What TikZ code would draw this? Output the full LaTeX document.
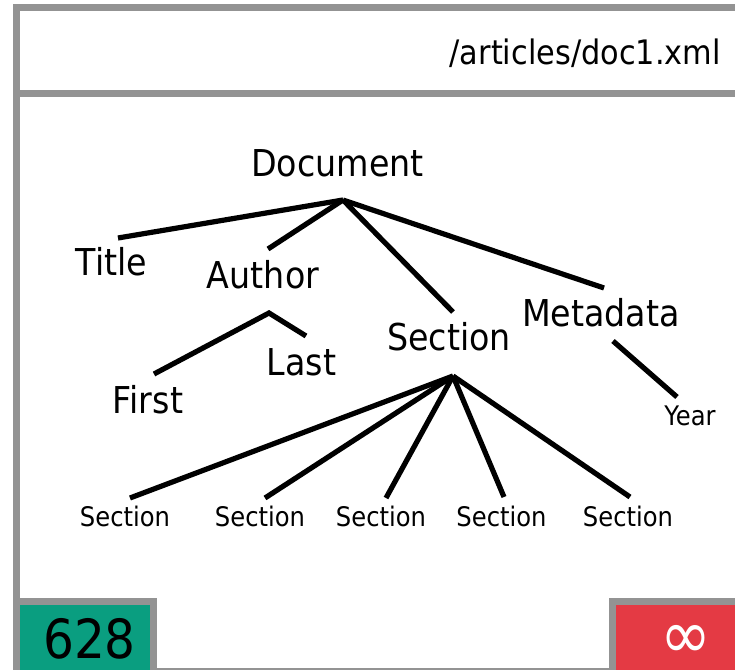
\documentclass[tikz,border=0pt]{standalone}
\usepackage{fontspec}
\setmainfont[FakeStretch=0.9]{DejaVu Sans}
\definecolor{framegray}{RGB}{147,147,147}
\definecolor{tealgreen}{RGB}{10,158,128}
\definecolor{alertred}{RGB}{228,58,68}
\tikzset{
  frame/.style={draw=framegray, line width=5.25pt},
  edge/.style={draw=black, line width=3.9pt},
  big/.style={inner sep=0pt, anchor=base, font=\fontsize{27.75}{33}\selectfont},
  small/.style={inner sep=0pt, anchor=base, font=\fontsize{20.2}{24}\selectfont},
}
\begin{document}
\begin{tikzpicture}[x=0.75pt,y=-0.75pt]
\useasboundingbox (0,0) rectangle (735,670);
\clip (0,0) rectangle (735,670);
\fill[white] (0,0) rectangle (735,670);
% frame
\draw[frame] (16.5,700) -- (16.5,8) -- (760,8);
\draw[frame] (16.5,93.5) -- (760,93.5);
\draw[frame] (16.5,671.5) -- (760,671.5);
% header
\node[inner sep=0pt, anchor=base east, font=\fontsize{25.3}{30}\selectfont] (path) at (721,65) {/articles/doc1.xml};
% nodes
\node[big] (doc) at (337.5,177) {Document};
\node[big] (title) at (111.5,276) {Title};
\node[big] (author) at (263,289) {Author};
\node[big] (sec) at (449,350) {Section};
\node[big] (meta) at (601,326) {Metadata};
\node[big] (first) at (148,413) {First};
\node[big] (last) at (301.5,375) {Last};
\node[small] (year) at (690,425) {Year};
\node[small] (s1) at (125,526) {Section};
\node[small] (s2) at (260,526) {Section};
\node[small] (s3) at (381,526) {Section};
\node[small] (s4) at (501.5,526) {Section};
\node[small] (s5) at (628,526) {Section};
% connector points
\coordinate (docroot) at (343,200);
\coordinate (titletop) at (118,238);
\coordinate (authortop) at (268,249);
\coordinate (sectop) at (453,312);
\coordinate (metatop) at (604,288);
\coordinate (authorroot) at (269,313);
\coordinate (firsttop) at (154,374);
\coordinate (lasttop) at (306,336);
\coordinate (metaroot) at (613,341);
\coordinate (yeartop) at (677,397);
\coordinate (secroot) at (453,376);
\coordinate (s1top) at (130,498);
\coordinate (s2top) at (265,498);
\coordinate (s3top) at (386,498);
\coordinate (s4top) at (504,497);
\coordinate (s5top) at (630,497);
% connectors
\draw[edge] (titletop) -- (docroot);
\draw[edge] (authortop) -- (docroot);
\draw[edge] (sectop) -- (docroot);
\draw[edge] (metatop) -- (docroot);
\draw[edge] (firsttop) -- (authorroot) -- (lasttop);
\draw[edge] (metaroot) -- (yeartop);
\draw[edge] (s1top) -- (secroot);
\draw[edge] (s2top) -- (secroot);
\draw[edge] (s3top) -- (secroot);
\draw[edge] (s4top) -- (secroot);
\draw[edge] (s5top) -- (secroot);
% bottom boxes
\draw[frame, fill=tealgreen] (16.5,601.5) rectangle (153.5,690);
\node[inner sep=0pt, anchor=base, font=\fontsize{40.5}{48}\selectfont] (count) at (89.5,658) {628};
\draw[frame, fill=alertred] (612.5,601.5) rectangle (760,690);
\node[inner sep=0pt, anchor=center, text=white, font=\fontsize{51}{60}\selectfont] (inf) at (685.5,641.5) {∞};
\end{tikzpicture}
\end{document}
